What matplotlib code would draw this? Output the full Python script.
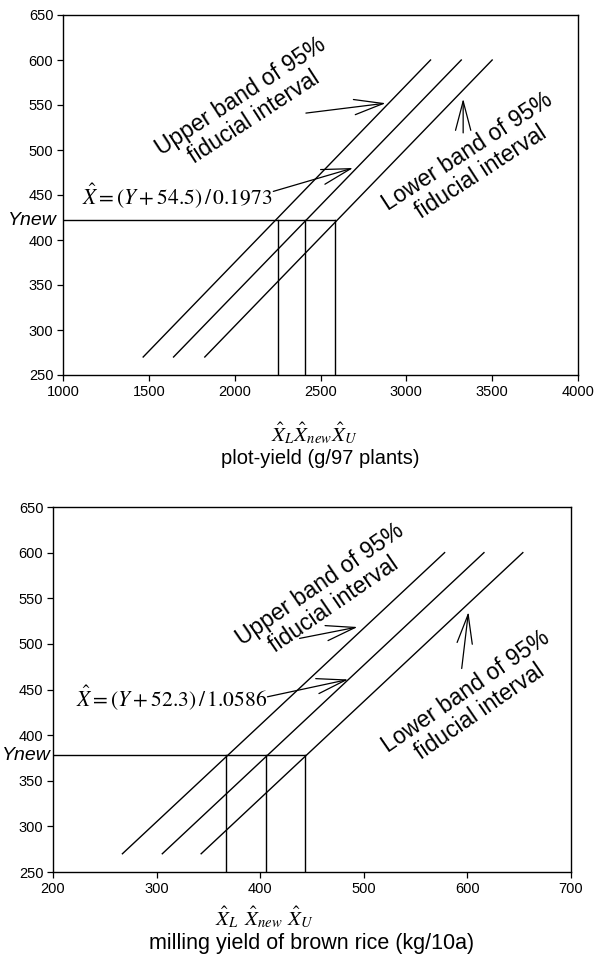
import matplotlib
matplotlib.use("Agg")
import matplotlib.pyplot as plt

plt.rcParams['font.family'] = ['Liberation Sans', 'DejaVu Sans']
plt.rcParams['mathtext.fontset'] = 'stix'

# ---------------- data: top chart (plot-yield) ----------------
top_band_y = [270, 600]
top_upper_x = [1467, 3141]
top_mid_x = [1644, 3320]
top_lower_x = [1826, 3500]
top_ynew = 422
top_xl, top_xnew, top_xu = 2251, 2412, 2585
top_xticks = [1000, 1500, 2000, 2500, 3000, 3500, 4000]
top_yticks = [250, 300, 350, 400, 450, 500, 550, 600, 650]
top_formula = r'$\hat{X} = (Y + 54.5)\,/\,0.1973$'
top_xlabel = 'plot-yield (g/97 plants)'

# ---------------- data: bottom chart (milling yield) ----------------
bot_band_y = [270, 600]
bot_upper_x = [267, 578]
bot_mid_x = [305.5, 616]
bot_lower_x = [343, 653.5]
bot_ynew = 378
bot_xl, bot_xnew, bot_xu = 367.4, 405.2, 443.3
bot_xticks = [200, 300, 400, 500, 600, 700]
bot_yticks = [250, 300, 350, 400, 450, 500, 550, 600, 650]
bot_formula = r'$\hat{X} = (Y + 52.3)\,/\,1.0586$'
bot_xlabel = 'milling yield of brown rice (kg/10a)'

band_text_upper = 'Upper band of 95%\nfiducial interval'
band_text_lower = 'Lower band of 95%\nfiducial interval'

W, H = 595, 957
fig = plt.figure(figsize=(W / 100, H / 100), dpi=100)

ax1 = fig.add_axes([63 / W, 1 - 375 / H, (578 - 63) / W, (375 - 15) / H])
ax2 = fig.add_axes([53 / W, 1 - 872 / H, (571 - 53) / W, (872 - 507) / H])

arrow_kw = dict(arrowstyle='->, head_length=2.1, head_width=0.55', lw=0.9,
                color='black', shrinkA=0, shrinkB=0)


def draw(ax, by, ux, mx, lx, ynew, xl, xn, xu, xt, yt, formula, xlabel,
         formula_xy, f_arrow, u_arrow, l_arrow, up_txt_xy, lo_txt_xy, rot,
         ynew_pos, hat_y, hat_mode, label_y, label_size):
    ax.plot(ux, by, color='black', lw=1.0)
    ax.plot(mx, by, color='black', lw=1.0)
    ax.plot(lx, by, color='black', lw=1.0)
    ax.plot([xt[0], xu], [ynew, ynew], color='black', lw=1.0)
    for xv in (xl, xn, xu):
        ax.plot([xv, xv], [yt[0], ynew], color='black', lw=1.0)
    ax.set_xlim(xt[0], xt[-1])
    ax.set_ylim(yt[0], yt[-1])
    ax.set_xticks(xt)
    ax.set_yticks(yt)
    ax.tick_params(direction='out', length=4, width=0.9, labelsize=10.5, pad=3)
    for s in ax.spines.values():
        s.set_linewidth(1.0)
    ax.text(formula_xy[0], formula_xy[1], formula, fontsize=15.5,
            ha='left', va='center')
    ax.annotate('', xy=f_arrow[1], xytext=f_arrow[0], arrowprops=arrow_kw)
    ax.annotate('', xy=u_arrow[1], xytext=u_arrow[0], arrowprops=arrow_kw)
    ax.annotate('', xy=l_arrow[1], xytext=l_arrow[0], arrowprops=arrow_kw)
    ax.text(up_txt_xy[0], up_txt_xy[1], band_text_upper, fontsize=16.5,
            rotation=rot, rotation_mode='anchor', ha='center', va='center',
            multialignment='center', linespacing=1.1)
    ax.text(lo_txt_xy[0], lo_txt_xy[1], band_text_lower, fontsize=16.5,
            rotation=rot, rotation_mode='anchor', ha='center', va='center',
            multialignment='center', linespacing=1.1)
    ax.text(ynew_pos[0], ynew, 'Ynew', fontsize=14, style='italic',
            transform=ax.get_yaxis_transform(), ha=ynew_pos[1], va='center',
            clip_on=False)
    if hat_mode[0] == 'joined':
        ax.text(hat_mode[1], hat_y,
                r'$\hat{X}_L\hat{X}_{new}\hat{X}_U$', fontsize=15,
                ha='center', va='center', transform=ax.transAxes)
    else:
        labels = [r'$\hat{X}_L$', r'$\hat{X}_{new}$', r'$\hat{X}_U$']
        for xv, lab, off in zip((xl, xn, xu), labels, hat_mode[1]):
            ax.text(xv + off, hat_y, lab, fontsize=15, ha='center',
                    va='center', transform=ax.get_xaxis_transform())
    ax.text(0.5, label_y, xlabel, fontsize=label_size, ha='center',
            va='center', transform=ax.transAxes)


draw(ax1, top_band_y, top_upper_x, top_mid_x, top_lower_x, top_ynew,
     top_xl, top_xnew, top_xu, top_xticks, top_yticks, top_formula, top_xlabel,
     formula_xy=(1110, 449),
     f_arrow=((2225, 454), (2690, 480)),
     u_arrow=((2415, 541), (2880, 552)),
     l_arrow=((3331, 519), (3331, 557)),
     up_txt_xy=(2075, 548), lo_txt_xy=(3394, 487), rot=33,
     ynew_pos=(-0.012, 'right'), hat_y=-0.16, hat_mode=('joined', 0.487),
     label_y=-0.233, label_size=14.5)

draw(ax2, bot_band_y, bot_upper_x, bot_mid_x, bot_lower_x, bot_ynew,
     bot_xl, bot_xnew, bot_xu, bot_xticks, bot_yticks, bot_formula, bot_xlabel,
     formula_xy=(222, 441),
     f_arrow=((407, 442), (485, 461)),
     u_arrow=((438, 506), (494, 518.5)),
     l_arrow=((594.5, 473), (601, 535)),
     up_txt_xy=(464, 554), lo_txt_xy=(605, 437), rot=34.5,
     ynew_pos=(-51 / 518, 'left'), hat_y=-0.123, hat_mode=('split', (0, -2, -4)),
     label_y=-0.196, label_size=15.5)

fig.savefig('out.png', dpi=100, facecolor='white')
